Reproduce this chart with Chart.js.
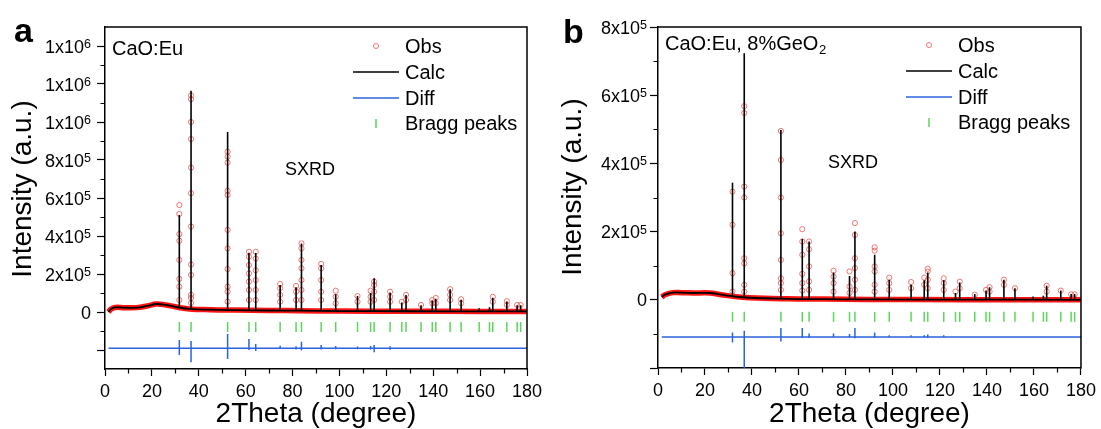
<!DOCTYPE html>
<html><head><meta charset="utf-8">
<script src="https://cdn.jsdelivr.net/npm/chart.js@4.4.1/dist/chart.umd.min.js"></script>
<style>
html,body{margin:0;padding:0;background:#fff;}
#wrap{position:relative;width:1101px;height:429px;overflow:hidden;}
#ca{position:absolute;left:0;top:0;}
#cb{position:absolute;left:550px;top:0;}
</style></head><body>
<div id="wrap">
<canvas id="ca" width="550" height="429"></canvas>
<canvas id="cb" width="551" height="429"></canvas>
</div>
<script>
const FONT = "'Liberation Sans', Arial, sans-serif";

// ---------- shared ----------
const braggPeaks = [31.7,36.7,52.3,61.4,64.3,74.7,81.5,83.8,92.2,98.4,107.7,113.3,114.8,121.6,126.6,128.4,134.8,139.6,141.1,147.2,151.9,159.6,164.0,165.4,171.4,175.8,177.3];
const xTickValues = [0,20,40,60,80,100,120,140,160,180];
const xMinorTicks = [10,30,50,70,90,110,130,150,170];

// ---------- panel a : CaO:Eu ----------
const calcPeakA = [5.1e5,1.165e6,9.47e5,3.12e5,3.1e5,1.42e5,1.3e5,3.6e5,2.47e5,0.93e5,0.84e5,1.0e5,1.77e5,1.03e5,0.5e5,0.9e5,0.35e5,0.6e5,0.7e5,1.2e5,0.65e5,0.2e5,0.25e5,0.75e5,0.55e5,0.35e5,0.35e5];
const calcBaseA = [0.25e5,0.16e5,0.1e5,0.09e5,0.09e5,0.08e5,0.07e5,0.07e5,0.06e5,0.05e5,0.05e5,0.04e5,0.04e5,0.04e5,0.04e5,0.04e5,0.04e5,0.03e5,0.03e5,0.03e5,0.03e5,0.03e5,0.03e5,0.03e5,0.03e5,0.03e5,0.03e5];
const bgXA = [1.5,2.5,4.3,8,13.5,18,22,26,31,36,45,55,70,83,100,130,160,180];
const bgA  = [0,0.15e5,0.24e5,0.23e5,0.23e5,0.32e5,0.42e5,0.37e5,0.25e5,0.16e5,0.12e5,0.1e5,0.08e5,0.07e5,0.05e5,0.04e5,0.03e5,0.03e5];
const obsPosA = [31.7,36.7,52.3,61.4,64.3,74.7,81.5,83.8,92.2,98.4,107.7,113.3,114.8,121.6,126.6,128.4,134.8,139.6,141.1,147.2,151.9,165.4,171.4,175.8,177.3];
const obsValsA = [
  [5.63e5,5.16e5,4.1e5,3.75e5,2.74e5,1.74e5,1.33e5,0.63e5],
  [1.14e6,1.12e6,1.0e6,9.1e5,7.6e5,6.25e5,4.5e5,2.5e5,1.95e5,0.9e5,0.74e5,0.47e5],
  [8.44e5,8.17e5,7.86e5,6.38e5,6.16e5,4.32e5,3.35e5,2.26e5,1.33e5,1.07e5,0.54e5],
  [3.17e5,2.91e5,2.47e5,2.03e5,1.6e5,1.16e5,0.63e5],
  [3.17e5,2.81e5,2.2e5,1.68e5,1.16e5,0.63e5],
  [1.47e5,1.25e5,0.9e5,0.54e5],
  [1.37e5,1.07e5,0.63e5],
  [3.61e5,3.35e5,2.74e5,2.3e5,1.68e5,1.16e5,0.63e5],
  [2.53e5,2.3e5,1.68e5,1.07e5,0.63e5],
  [1.12e5,0.8e5,0.46e5],
  [0.84e5,0.54e5],
  [1.12e5,0.8e5,0.54e5],
  [1.6e5,1.42e5,1.07e5,0.63e5],
  [1.07e5,0.8e5,0.54e5],
  [0.54e5],
  [0.9e5,0.63e5],
  [0.37e5],
  [0.63e5,0.46e5],
  [0.74e5,0.46e5],
  [1.2e5,0.9e5,0.63e5],
  [0.67e5,0.46e5],
  [0.8e5,0.54e5],
  [0.57e5,0.37e5],
  [0.37e5],
  [0.37e5]
];
const diffPos = [31.7,36.7,52.3,61.4,64.3,74.7,81.5,83.8,92.2,98.4,107.7,113.3,114.8,121.6];
const diffBaseA = -1.91e5;
const diffUpA   = [-1.47e5,-1.53e5,-1.16e5,-1.42e5,-1.68e5,-1.77e5,-1.8e5,-1.56e5,-1.74e5,-1.79e5,-1.82e5,-1.79e5,-1.74e5,-1.8e5];
const diffDownA = [-2.26e5,-2.65e5,-2.47e5,-2.0e5,-2.05e5,-1.95e5,-1.97e5,-2.03e5,-1.98e5,-1.96e5,-1.96e5,-1.98e5,-2.12e5,-1.99e5];
const braggYA = -0.79e5;
const yMajorA = [-2e5,0,2e5,4e5,6e5,8e5,1e6,1.2e6,1.4e6];
const yMinorA = [-1e5,1e5,3e5,5e5,7e5,9e5,1.1e6,1.3e6];
const yLabelsA = ['','0','2x10^5','4x10^5','6x10^5','8x10^5','1x10^6','1x10^6','1x10^6'];

// ---------- panel b : CaO:Eu, 8%GeO2 ----------
const calcPeakB = [3.43e5,7.23e5,4.98e5,1.78e5,1.71e5,0.8e5,0.7e5,2.0e5,1.32e5,0.59e5,0.44e5,0.57e5,0.8e5,0.57e5,0.2e5,0.51e5,0.17e5,0.27e5,0.37e5,0.59e5,0.34e5,0.1e5,0.12e5,0.41e5,0.27e5,0.17e5,0.17e5];
const calcBaseB = [0.1e5,0.07e5,0.04e5,0.03e5,0.03e5,0.02e5,0.02e5,0.02e5,0.01e5,0.01e5,0.01e5,0.01e5,0.01e5,0.01e5,0.01e5,0.01e5,0.01e5,0.01e5,0.01e5,0,0,0,0,0,0,0,0];
const bgXB = [1.6,3,6.4,10,15,22,27,32,39,55,70,90,130,180];
const bgB  = [0.08e5,0.15e5,0.21e5,0.21e5,0.2e5,0.2e5,0.15e5,0.1e5,0.06e5,0.03e5,0.02e5,0.01e5,0.005e5,0];
const obsPosB = [31.7,36.7,52.3,61.4,64.3,74.7,81.5,83.8,92.2,98.4,107.7,113.3,114.8,121.6,126.6,128.4,134.8,139.6,141.1,147.2,151.9,165.4,171.4,175.8,177.3];
const obsValsB = [
  [3.17e5,2.2e5,0.78e5,0.24e5],
  [5.68e5,5.48e5,3.32e5,3.0e5,1.22e5,1.07e5,0.44e5,0.24e5],
  [4.95e5,4.1e5,3.0e5,1.95e5,1.17e5,0.63e5,0.49e5,0.29e5],
  [2.07e5,1.71e5,1.32e5,0.76e5,0.49e5,0.27e5],
  [1.71e5,1.48e5,0.98e5,0.54e5,0.29e5],
  [0.85e5,0.68e5,0.49e5,0.24e5],
  [0.83e5,0.39e5,0.2e5],
  [2.25e5,1.9e5,1.22e5,0.93e5,0.59e5,0.29e5],
  [1.54e5,1.44e5,0.98e5,0.83e5,0.44e5,0.24e5],
  [0.65e5,0.49e5,0.29e5],
  [0.52e5,0.34e5],
  [0.65e5,0.44e5],
  [0.91e5,0.83e5,0.59e5,0.34e5],
  [0.63e5,0.49e5,0.29e5],
  [0.24e5],
  [0.53e5,0.34e5],
  [0.15e5],
  [0.29e5],
  [0.37e5,0.24e5],
  [0.59e5,0.44e5],
  [0.34e5],
  [0.41e5,0.24e5],
  [0.27e5],
  [0.16e5],
  [0.16e5]
];
const diffBaseB = -1.09e5;
const diffUpB   = [-0.96e5,-0.91e5,-0.83e5,-0.83e5,-0.99e5,-0.99e5,-1.0e5,-0.83e5,-0.96e5,-1.04e5,-1.04e5,-1.04e5,-1.02e5,-1.04e5];
const diffDownB = [-1.25e5,-2.0e5,-1.22e5,-1.12e5,-1.12e5,-1.1e5,-1.1e5,-1.13e5,-1.12e5,-1.1e5,-1.1e5,-1.1e5,-1.12e5,-1.1e5];
const braggYB = -0.5e5;
const yMajorB = [-2e5,0,2e5,4e5,6e5,8e5];
const yMinorB = [-1e5,1e5,3e5,5e5,7e5];
const yLabelsB = ['','0','2x10^5','4x10^5','6x10^5','8x10^5'];

const legendNames = ['Obs','Calc','Diff','Bragg peaks'];

const COL_CALC = '#000000', COL_BAND = '#ff1414', COL_OBS = 'rgba(236,96,96,0.85)', COL_DIFF = '#2a64dc', COL_BRAGG = '#5cd65c';

const decoPlugin = {
  id: 'deco',
  afterDraw(chart, args, o) {
    const {ctx, chartArea: a} = chart;
    const x = chart.scales.x, y = chart.scales.y;
    ctx.save();
    // frame top/right
    ctx.strokeStyle = '#000'; ctx.lineWidth = 1.5;
    ctx.beginPath(); ctx.moveTo(a.left - 0.75, a.top); ctx.lineTo(a.right, a.top); ctx.lineTo(a.right, a.bottom + 0.75); ctx.stroke();
    // minor ticks
    ctx.lineWidth = 1.2;
    ctx.beginPath();
    o.yMinor.forEach(v => { const py = Math.round(y.getPixelForValue(v)) + 0.5; ctx.moveTo(a.left - 4.5, py); ctx.lineTo(a.left, py); });
    xMinorTicks.forEach(v => { const px = Math.round(x.getPixelForValue(v)) + 0.5; ctx.moveTo(px, a.bottom); ctx.lineTo(px, a.bottom + 4.5); });
    ctx.stroke();
    // y tick labels with superscripts
    ctx.fillStyle = '#000';
    ctx.textBaseline = 'alphabetic';
    o.yMajor.forEach((v, i) => {
      const lab = o.yLabels[i]; if (!lab) return;
      const parts = lab.split('^');
      const py = y.getPixelForValue(v);
      const base = py + 6.5;
      ctx.font = `18px ${FONT}`;
      const w1 = ctx.measureText(parts[0]).width;
      let w2 = 0;
      if (parts[1]) { ctx.font = `12.5px ${FONT}`; w2 = ctx.measureText(parts[1]).width; }
      const right = a.left - o.labelGap;
      ctx.font = `18px ${FONT}`; ctx.textAlign = 'left';
      ctx.fillText(parts[0], right - w1 - w2, base);
      if (parts[1]) { ctx.font = `12.5px ${FONT}`; ctx.fillText(parts[1], right - w2, base - 4.5); }
    });
    // y title
    ctx.save();
    ctx.translate(23.5, o.yTitleY); ctx.rotate(-Math.PI / 2);
    ctx.font = `28px ${FONT}`; ctx.textAlign = 'center'; ctx.textBaseline = 'middle';
    ctx.fillText('Intensity (a.u.)', 0, 0);
    ctx.restore();
    // panel letter
    ctx.textAlign = 'left'; ctx.textBaseline = 'alphabetic';
    ctx.font = `bold 34px ${FONT}`;
    ctx.fillText(o.letter, o.letterX, o.letterY);
    // sample label
    ctx.font = `20px ${FONT}`;
    let sx = a.left + 7;
    ctx.fillText(o.sample, sx, o.sampleY);
    if (o.sampleSub) {
      sx += ctx.measureText(o.sample).width;
      ctx.font = `13px ${FONT}`;
      ctx.fillText(o.sampleSub, sx + 0.5, o.sampleY + 4);
    }
    // SXRD
    ctx.font = `18px ${FONT}`;
    ctx.fillText('SXRD', a.left + o.sxrdDX, o.sxrdY);
    // legend
    const lx0 = a.left + 248, lx1 = a.left + 294, mx = a.left + 271, tx = a.left + 300;
    const rows = o.legendRows;
    ctx.font = `20px ${FONT}`; ctx.textBaseline = 'middle';
    legendNames.forEach((n, i) => ctx.fillText(n, tx, rows[i]));
    ctx.strokeStyle = COL_OBS; ctx.lineWidth = 1;
    ctx.beginPath(); ctx.arc(mx, rows[0] - 1, 2.5, 0, Math.PI * 2); ctx.stroke();
    ctx.strokeStyle = COL_CALC; ctx.lineWidth = 1.6;
    ctx.beginPath(); ctx.moveTo(lx0, rows[1] - 1); ctx.lineTo(lx1, rows[1] - 1); ctx.stroke();
    ctx.strokeStyle = COL_DIFF; ctx.lineWidth = 1.6;
    ctx.beginPath(); ctx.moveTo(lx0, rows[2] - 1); ctx.lineTo(lx1, rows[2] - 1); ctx.stroke();
    ctx.strokeStyle = COL_BRAGG; ctx.lineWidth = 1.5;
    ctx.beginPath(); ctx.moveTo(mx, rows[3] - 5); ctx.lineTo(mx, rows[3] + 4); ctx.stroke();
    ctx.restore();
  }
};

function makeChart(id, d) {
  const calcBg = d.bgX.map((xv, i) => ({x: xv, y: d.bg[i]}));
  const spikes = [];
  braggPeaks.forEach((p, i) => { spikes.push({x: p, y: d.base[i]}, {x: p, y: d.calc[i]}, {x: p, y: null}); });
  const obs = [];
  d.obsPos.forEach((p, i) => d.obsVals[i].forEach(v => obs.push({x: p, y: v})));
  const diff = [{x: d.bgX[0], y: d.diffBase}];
  diffPos.forEach((p, i) => diff.push({x: p, y: d.diffBase}, {x: p, y: d.diffUp[i]}, {x: p, y: d.diffDown[i]}, {x: p, y: d.diffBase}));
  diff.push({x: 180, y: d.diffBase});
  const bragg = braggPeaks.map(p => ({x: p, y: d.braggY}));

  return new Chart(document.getElementById(id), {
    type: 'scatter',
    data: { datasets: [
      {label: 'Obs band', data: calcBg, showLine: true, borderColor: COL_BAND, borderWidth: 5.5, pointRadius: 0, tension: 0.4, order: 6},
      {label: 'Obs', data: obs, showLine: false, pointStyle: 'circle', pointRadius: 2.6, borderColor: COL_OBS, backgroundColor: 'rgba(0,0,0,0)', borderWidth: 1, order: 5},
      {label: 'Calc', data: calcBg, showLine: true, borderColor: COL_CALC, borderWidth: 1.8, pointRadius: 0, tension: 0.4, order: 4},
      {label: 'Calc peaks', data: spikes, showLine: true, spanGaps: false, borderColor: COL_CALC, borderWidth: 1.6, pointRadius: 0, order: 3},
      {label: 'Diff', data: diff, showLine: true, borderColor: COL_DIFF, borderWidth: 1.5, pointRadius: 0, order: 2},
      {label: 'Bragg peaks', data: bragg, showLine: false, pointStyle: 'line', rotation: 90, pointRadius: 5, borderColor: COL_BRAGG, borderWidth: 1.5, order: 1}
    ]},
    options: {
      responsive: false, animation: false, events: [],
      layout: {padding: {left: 0, right: d.padRight, top: 27, bottom: 0}},
      plugins: {legend: {display: false}, tooltip: {enabled: false}, deco: d.deco},
      scales: {
        x: {
          type: 'linear', min: 0, max: 180, position: 'bottom',
          afterBuildTicks: s => { s.ticks = xTickValues.map(v => ({value: v})); },
          afterFit: s => { s.height = d.xAxisH; },
          grid: {display: true, drawOnChartArea: false, drawTicks: true, tickLength: 7, tickWidth: 1.2, tickColor: '#000'},
          border: {display: true, color: '#000', width: 1.5},
          ticks: {font: {family: FONT, size: 18}, color: '#000', padding: 5, maxRotation: 0, autoSkip: false},
          title: {display: true, text: '2Theta (degree)', font: {family: FONT, size: 28, lineHeight: 1}, color: '#000', padding: {top: 0, bottom: 1}}
        },
        y: {
          type: 'linear', min: d.yMin, max: d.yMax, position: 'left',
          afterBuildTicks: s => { s.ticks = d.deco.yMajor.map(v => ({value: v})); },
          afterFit: s => { s.width = d.left; },
          grid: {display: true, drawOnChartArea: false, drawTicks: true, tickLength: 8, tickWidth: 1.2, tickColor: '#000'},
          border: {display: true, color: '#000', width: 1.5},
          ticks: {callback: () => '', padding: 0}
        }
      }
    },
    plugins: [decoPlugin]
  });
}

makeChart('ca', {
  bgX: bgXA, bg: bgA, base: calcBaseA, calc: calcPeakA, obsPos: obsPosA, obsVals: obsValsA,
  diffBase: diffBaseA, diffUp: diffUpA, diffDown: diffDownA, braggY: braggYA,
  yMin: -3e5, yMax: 1.5e6, left: 105, padRight: 23, xAxisH: 60,
  deco: {yMajor: yMajorA, yMinor: yMinorA, yLabels: yLabelsA, labelGap: 14, yTitleY: 189,
         letter: 'a', letterX: 14, letterY: 42, sample: 'CaO:Eu', sampleSub: '', sampleY: 55,
         sxrdDX: 180, sxrdY: 175, legendRows: [47, 73, 99, 124]}
});
makeChart('cb', {
  bgX: bgXB, bg: bgB, base: calcBaseB, calc: calcPeakB, obsPos: obsPosB, obsVals: obsValsB,
  diffBase: diffBaseB, diffUp: diffUpB, diffDown: diffDownB, braggY: braggYB,
  yMin: -2e5, yMax: 8e5, left: 108, padRight: 20, xAxisH: 61,
  deco: {yMajor: yMajorB, yMinor: yMinorB, yLabels: yLabelsB, labelGap: 11, yTitleY: 187,
         letter: 'b', letterX: 13, letterY: 43, sample: 'CaO:Eu, 8%GeO', sampleSub: '2', sampleY: 50,
         sxrdDX: 170, sxrdY: 168, legendRows: [46, 72, 98, 123]}
});
</script>
</body></html>
